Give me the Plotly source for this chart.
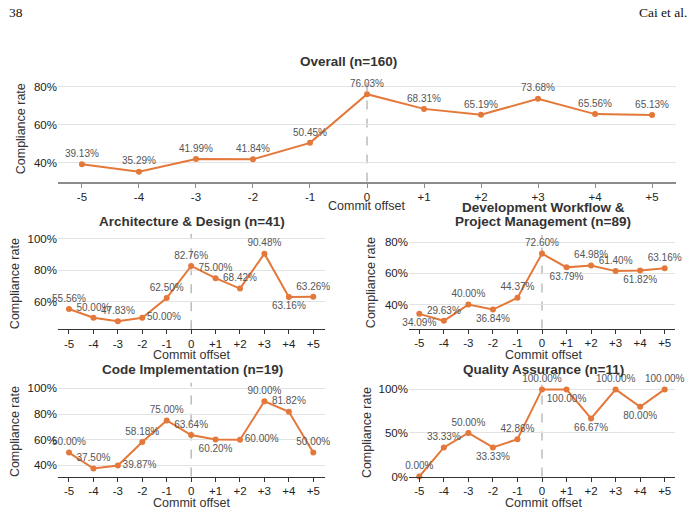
import plotly.graph_objects as go

# ---------------- data ----------------
offsets = [-5, -4, -3, -2, -1, 0, 1, 2, 3, 4, 5]
tick_labels = ["-5", "-4", "-3", "-2", "-1", "0", "+1", "+2", "+3", "+4", "+5"]

overall = [39.13, 35.29, 41.99, 41.84, 50.45, 76.03, 68.31, 65.19, 73.68, 65.56, 65.13]
arch = [55.56, 50.00, 47.83, 50.00, 62.50, 82.76, 75.00, 68.42, 90.48, 63.16, 63.26]
dev = [34.09, 29.63, 40.00, 36.84, 44.37, 72.60, 63.79, 64.98, 61.40, 61.82, 63.16]
code = [50.00, 37.50, 39.87, 58.18, 75.00, 63.64, 60.20, 60.00, 90.00, 81.82, 50.00]
qa = [0.00, 33.33, 50.00, 33.33, 42.86, 100.00, 100.00, 66.67, 100.00, 80.00, 100.00]

titles = [["Overall (n=160)"], ["Architecture & Design (n=41)"],
          ["Development Workflow &", "Project Management (n=89)"],
          ["Code Implementation (n=19)"], ["Quality Assurance (n=11)"]]

T, B, R = "top center", "bottom center", "middle right"
pos_overall = [T] * 11
pos_arch = [T, T, T, R, T, T, T, T, T, B, T]
pos_dev = [B, T, T, B, T, T, B, T, T, B, T]
pos_code = [T, T, R, T, T, T, B, R, T, T, T]
pos_qa = [T, T, T, B, T, T, B, B, T, B, T]

W, H = 696, 520
FONT = "Liberation Sans, Arial, sans-serif"
ORANGE = "#e4783a"


def px_x(a, b):
    return [a / W, b / W]


def px_y(top, bottom):
    return [1 - bottom / H, 1 - top / H]


panels = [
    # series, label positions, x-domain px, y-domain px, y-range, y-ticks, axis line, x-range
    (overall, pos_overall, (58, 676), (77, 183), [30.1, 85.1], [40, 60, 80], ("#8c8c8c", 2),
     [-5.42, 5.42]),
    (arch, pos_arch, (58, 325), (236, 332.7), [42.8, 103], [60, 80, 100], ("#333333", 1.2),
     [-5.45, 5.48]),
    (dev, pos_dev, (409, 675), (237, 332), [24.7, 84.6], [40, 60, 80], ("#333333", 1.2),
     [-5.42, 5.42]),
    (code, pos_code, (58, 325), (387, 482), [31.3, 104.4], [40, 60, 80, 100], ("#333333", 1.2),
     [-5.45, 5.48]),
    (qa, pos_qa, (409, 675), (389, 482), [0, 105.3], [0, 50, 100], ("#333333", 1.2),
     [-5.42, 5.42]),
]

fig = go.Figure()
layout = dict(
    width=W, height=H,
    margin=dict(l=0, r=0, t=0, b=0),
    paper_bgcolor="white", plot_bgcolor="white",
    showlegend=False,
    font=dict(family=FONT, color="#222222"),
)
shapes = []
annotations = []

title_pos = [(348, 61), (192, 224), (543, 209), (192, 374), (543, 374)]
xlabel_pos = [(367, 208), (191, 359), (543, 359), (191, 509), (543, 509)]
ylabel_pos = [(21, 130), (15, 287), (371, 286), (15, 437), (367, 437)]

for i, (vals, pos, xd, yd, yr, yt, (lc, lw), xr) in enumerate(panels):
    n = "" if i == 0 else str(i + 1)
    xa, ya = "x" + n, "y" + n
    fig.add_trace(go.Scatter(
        x=offsets, y=vals, xaxis=xa, yaxis=ya,
        mode="lines+markers+text",
        line=dict(color=ORANGE, width=2),
        marker=dict(color=ORANGE, size=6),
        text=[f"{v:.2f}%" for v in vals],
        textposition=pos,
        textfont=dict(family=FONT, size=10, color="#555555"),
        cliponaxis=False,
        hoverinfo="skip",
    ))
    layout["xaxis" + n] = dict(
        domain=px_x(*xd), anchor=ya, range=xr,
        tickmode="array", tickvals=offsets, ticktext=tick_labels,
        showgrid=False, zeroline=False,
        showline=True, linecolor=lc, linewidth=lw,
        ticks="outside", ticklen=4, tickcolor=lc, tickwidth=1,
        tickfont=dict(family=FONT, size=11.5, color="#222222"),
    )
    layout["yaxis" + n] = dict(
        domain=px_y(*yd), anchor=xa, range=yr,
        tickmode="array", tickvals=yt, ticktext=[f"{v}%" for v in yt],
        showgrid=True, gridcolor="#e3e3e3", gridwidth=1.2,
        zeroline=False, showline=False, ticks="",
        tickfont=dict(family=FONT, size=11.5, color="#222222"),
    )
    shapes.append(dict(
        type="line", xref=xa, yref=ya + " domain", x0=0, x1=0, y0=0, y1=1,
        line=dict(color="#999999", width=1, dash="dash"), layer="below",
    ))
    tx, ty = title_pos[i]
    for k, line in enumerate(titles[i]):
        annotations.append(dict(
            text="<b>" + line + "</b>", xref="paper", yref="paper",
            x=tx / W, y=1 - (ty + 15 * k) / H, xanchor="center", yanchor="middle",
            showarrow=False, font=dict(family=FONT, size=13.5, color="#333333"),
        ))
    lx, ly = xlabel_pos[i]
    annotations.append(dict(
        text="Commit offset", xref="paper", yref="paper",
        x=lx / W, y=1 - ly / H, xanchor="center", yanchor="middle",
        showarrow=False, font=dict(family=FONT, size=12.5, color="#333333"),
    ))
    yx, yy = ylabel_pos[i]
    annotations.append(dict(
        text="Compliance rate", xref="paper", yref="paper",
        x=yx / W, y=1 - yy / H, xanchor="center", yanchor="middle",
        textangle=-90, showarrow=False,
        font=dict(family=FONT, size=12.5, color="#333333"),
    ))

# page header
annotations.append(dict(text="38", xref="paper", yref="paper", x=7 / W, y=1 - 12 / H,
                        xanchor="left", yanchor="middle", showarrow=False,
                        font=dict(family="Liberation Serif, serif", size=13.5, color="#111111")))
annotations.append(dict(text="Cai et al.", xref="paper", yref="paper", x=689 / W, y=1 - 12 / H,
                        xanchor="right", yanchor="middle", showarrow=False,
                        font=dict(family="Liberation Serif, serif", size=13.5, color="#111111")))

layout["shapes"] = shapes
layout["annotations"] = annotations
fig.update_layout(**layout)
fig.write_html("out.html")
